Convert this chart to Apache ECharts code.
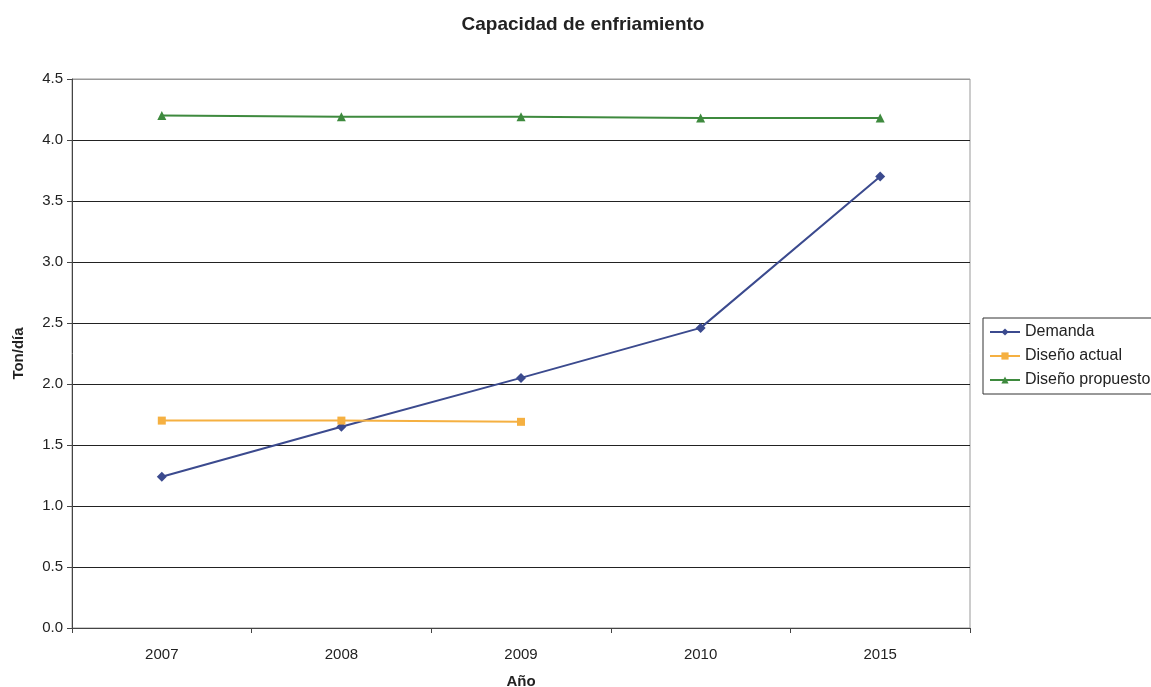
<!DOCTYPE html>
<html><head><meta charset="utf-8">
<script src="https://cdn.jsdelivr.net/npm/echarts@6/dist/echarts.min.js"></script>
<style>html,body{margin:0;padding:0;background:#fff}#c{width:1151px;height:687px}</style>
</head><body><div id="c"></div>
<script>
const categories = ['2007','2008','2009','2010','2015'];
const demanda = [1.24, 1.65, 2.05, 2.46, 3.70];
const disenoActual = [1.70, 1.70, 1.69, null, null];
const disenoPropuesto = [4.20, 4.19, 4.19, 4.18, 4.18];

const chart = echarts.init(document.getElementById('c'));
const font = 'Liberation Sans, Arial, sans-serif';
chart.setOption({
  backgroundColor: '#fff',
  animation: false,
  title: {
    text: 'Capacidad de enfriamiento', left: 578, top: 10, textAlign: 'center',
    textStyle: {fontFamily: font, fontSize: 19, fontWeight: 'bold', color: '#222'}
  },
  grid: {left: 72, right: 181, top: 79, bottom: 59, outerBoundsMode: 'none', show: true, borderColor: '#999', borderWidth: 1},
  legend: {
    orient: 'vertical', left: 983, top: 318,
    itemWidth: 30, itemHeight: 9, itemGap: 8,
    padding: [6, 8, 6, 6],
    borderColor: '#333', borderWidth: 1,
    textStyle: {fontFamily: font, fontSize: 16, color: '#222'},
    data: ['Demanda', 'Diseño actual', 'Diseño propuesto']
  },
  xAxis: {
    type: 'category', data: categories, boundaryGap: true,
    name: 'Año', nameLocation: 'middle', nameGap: 46,
    nameTextStyle: {fontFamily: font, fontSize: 15, fontWeight: 'bold', color: '#222'},
    axisLine: {lineStyle: {color: '#444'}},
    axisTick: {show: true, length: 5, lineStyle: {color: '#444'}},
    axisLabel: {fontFamily: font, fontSize: 15, color: '#222', margin: 19}
  },
  yAxis: {
    type: 'value', min: 0, max: 4.5, interval: 0.5,
    name: 'Ton/día', nameLocation: 'middle', nameGap: 46,
    nameTextStyle: {fontFamily: font, fontSize: 15, fontWeight: 'bold', color: '#222'},
    axisLine: {show: true, lineStyle: {color: '#444'}},
    axisTick: {show: true, length: 5, lineStyle: {color: '#444'}},
    axisLabel: {fontFamily: font, fontSize: 15, color: '#222', margin: 9, formatter: v => v.toFixed(1)},
    splitLine: {show: true, lineStyle: {color: ['#222','#222','#222','#222','#222','#222','#222','#222','#222','#999'], width: 1}}
  },
  series: [
    {name: 'Demanda', type: 'line', data: demanda, symbol: 'diamond', symbolSize: 10,
     itemStyle: {color: '#3b4a8e'}, lineStyle: {color: '#3b4a8e', width: 2}},
    {name: 'Diseño actual', type: 'line', data: disenoActual, symbol: 'rect', symbolSize: 8,
     itemStyle: {color: '#f5b041'}, lineStyle: {color: '#f5b041', width: 2}},
    {name: 'Diseño propuesto', type: 'line', data: disenoPropuesto, symbol: 'triangle', symbolSize: 9,
     itemStyle: {color: '#3e8a3e'}, lineStyle: {color: '#3e8a3e', width: 2}}
  ]
});
</script></body></html>
